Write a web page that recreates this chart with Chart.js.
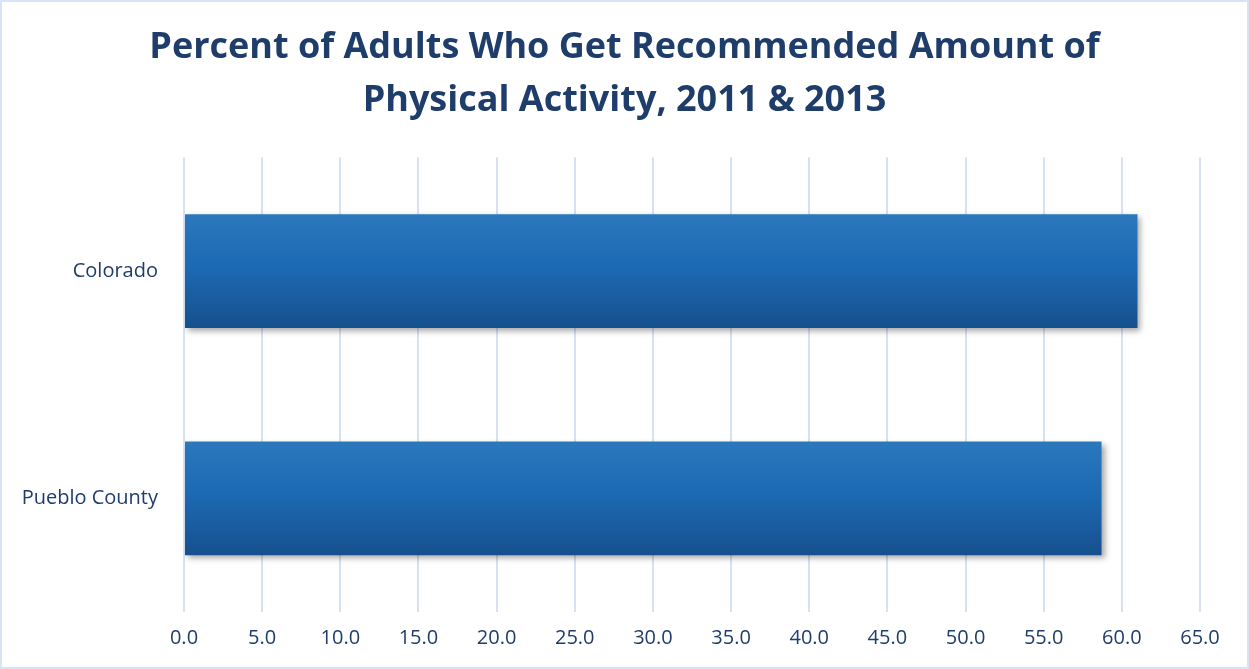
<!DOCTYPE html>
<html>
<head>
<meta charset="utf-8">
<script src="https://cdn.jsdelivr.net/npm/chart.js@4.4.1/dist/chart.umd.min.js"></script>
<style>
  html, body { margin: 0; padding: 0; background: #ffffff; }
  #wrap { position: relative; width: 1245px; height: 665px; border: 2px solid #d6e4f5; }
</style>
</head>
<body>
<div id="wrap"><canvas id="activityChart" width="1245" height="665"></canvas></div>
<script>
  const regions = ["Colorado", "Pueblo County"];
  const percentActive = [61.0, 58.7];
  const titleLines = ["Percent of Adults Who Get Recommended Amount of", "Physical Activity, 2011 & 2013"];

  const labelColor = "#1f3d6b";
  const gridColor = "#d4e2f4";

  // vertical gradient across each bar, lighter at the top and darker at the bottom
  function barFill(context) {
    const chart = context.chart;
    const yScale = chart.scales.y;
    if (!chart.chartArea || !yScale || context.dataIndex === undefined) return "#1f6bb5";
    const center = yScale.getPixelForValue(context.dataIndex);
    const half = yScale.height / regions.length * 0.25;
    if (!Number.isFinite(center) || !Number.isFinite(half) || half <= 0) return "#1f6bb5";
    const g = chart.ctx.createLinearGradient(0, center - half, 0, center + half);
    g.addColorStop(0, "#2b78bd");
    g.addColorStop(0.45, "#1d6ab4");
    g.addColorStop(1, "#16508e");
    return g;
  }

  // soft drop shadow under the bars
  const barShadow = {
    id: "barShadow",
    beforeDatasetDraw(chart) {
      const ctx = chart.ctx;
      ctx.save();
      ctx.shadowColor = "rgba(0,0,0,0.35)";
      ctx.shadowBlur = 6;
      ctx.shadowOffsetX = 3;
      ctx.shadowOffsetY = 3;
    },
    afterDatasetDraw(chart) {
      chart.ctx.restore();
    }
  };

  const chart = new Chart(document.getElementById("activityChart").getContext("2d"), {
    type: "bar",
    data: {
      labels: regions,
      datasets: [{
        data: percentActive,
        backgroundColor: barFill,
        borderWidth: 0,
        barPercentage: 0.5,
        categoryPercentage: 1.0
      }]
    },
    options: {
      indexAxis: "y",
      responsive: false,
      animation: false,
      layout: { padding: { left: 16, right: 16, top: 0, bottom: 3 } },
      plugins: {
        legend: { display: false },
        tooltip: { enabled: false },
        title: {
          display: true,
          text: titleLines,
          color: "#1f3d6b",
          font: { family: "Open Sans", size: 36, weight: "bold", lineHeight: 1.45 },
          padding: { top: 20, bottom: 31 }
        }
      },
      scales: {
        x: {
          min: 0,
          max: 65,
          ticks: {
            stepSize: 5,
            color: labelColor,
            font: { family: "Open Sans", size: 20 },
            padding: 14,
            callback: (v) => Number(v).toFixed(1)
          },
          grid: { color: gridColor, lineWidth: 2, drawTicks: false },
          border: { display: false }
        },
        y: {
          ticks: {
            color: labelColor,
            font: { family: "Open Sans", size: 20 },
            padding: 18
          },
          grid: { display: false },
          border: { display: false },
          afterFit(scale) { scale.width = 166; }
        },
        // empty strip on the right so the plot ends short of the frame
        yRight: {
          axis: "y",
          type: "category",
          position: "right",
          ticks: { display: false },
          grid: { display: false },
          border: { display: false },
          afterFit(scale) { scale.width = 31; }
        }
      }
    },
    plugins: [barShadow]
  });
  chart.update();
</script>
</body>
</html>
